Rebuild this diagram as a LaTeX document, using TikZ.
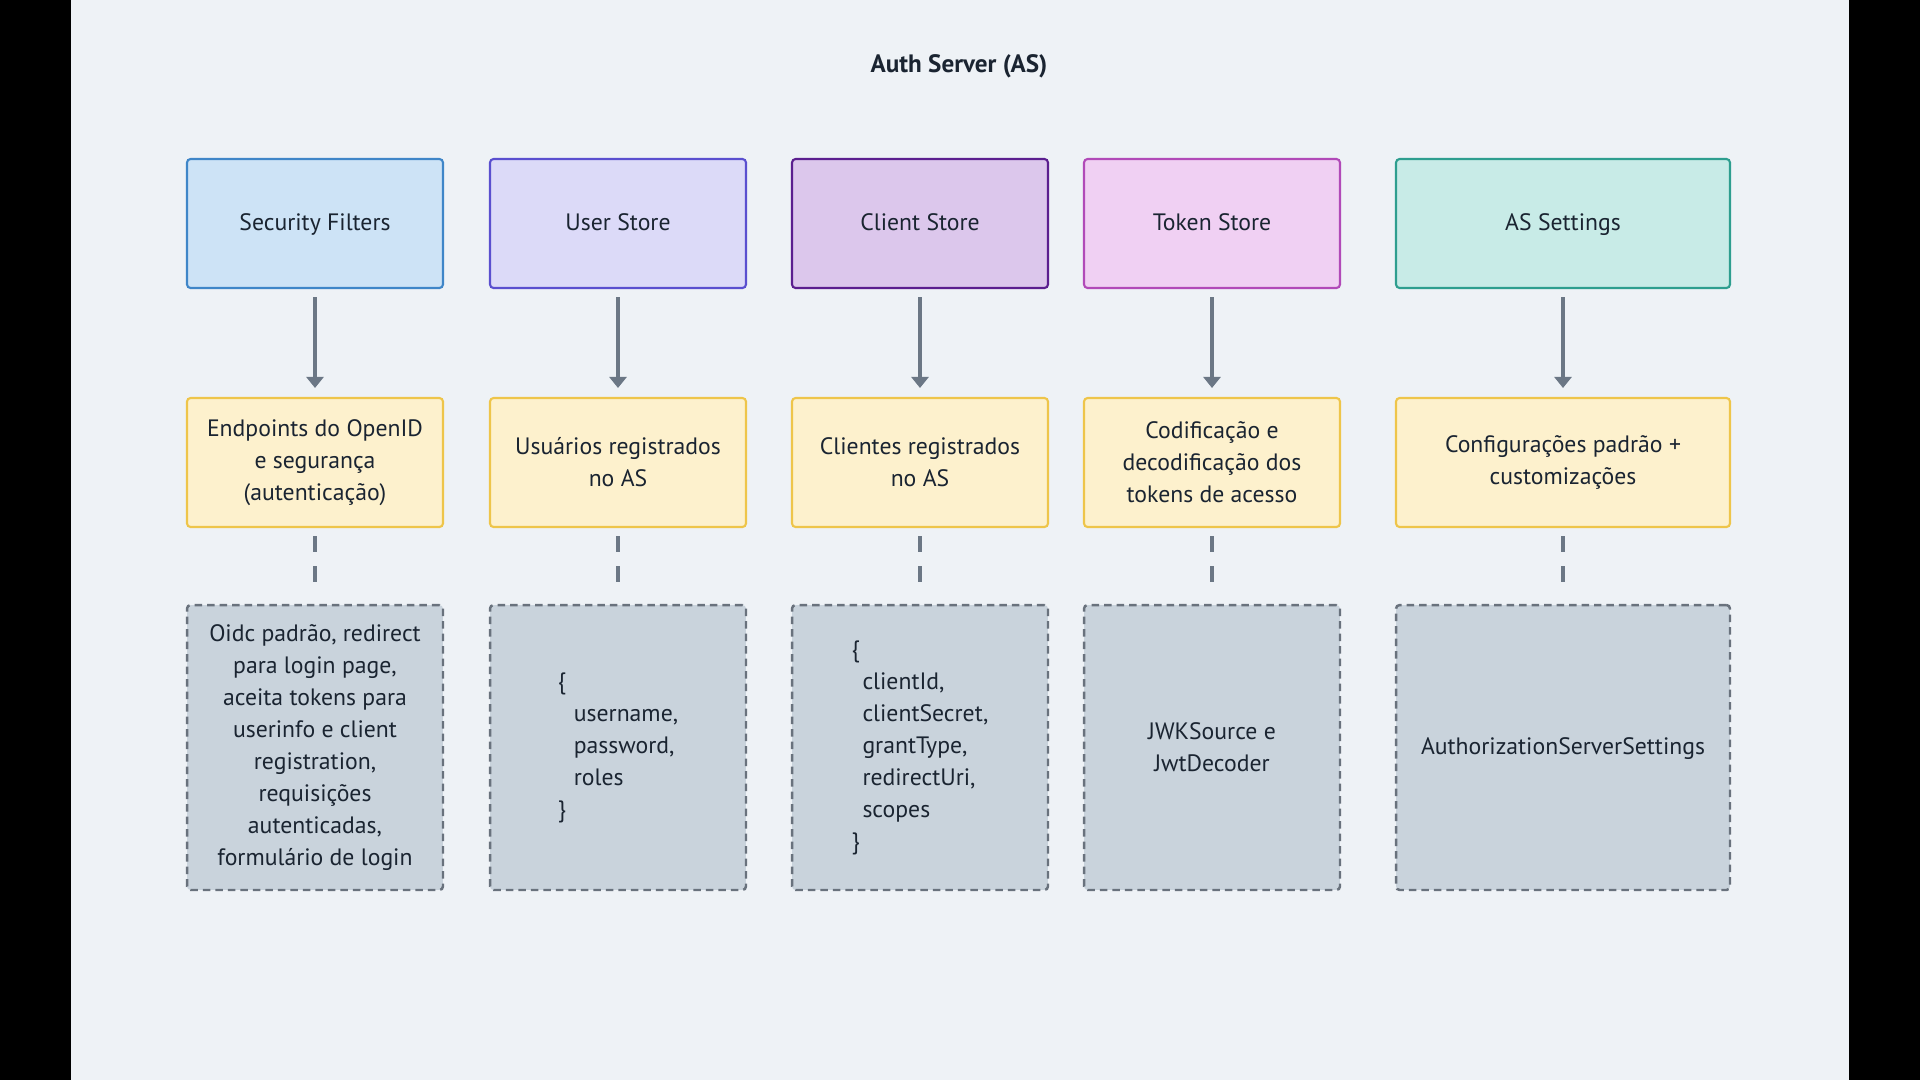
\documentclass[tikz,border=0pt]{standalone}
\usepackage{fontspec}
\setmainfont{PT Sans}
\usepackage{tikz}
\usetikzlibrary{arrows.meta,positioning}

\definecolor{panel}{HTML}{EEF2F6}
\definecolor{ink}{HTML}{1A2431}
\definecolor{slate}{HTML}{6B7785}
\definecolor{secfill}{HTML}{CDE3F6}
\definecolor{secline}{HTML}{3F86C8}
\definecolor{userfill}{HTML}{DCDAF8}
\definecolor{userline}{HTML}{5A4FCF}
\definecolor{clientfill}{HTML}{DCC7EC}
\definecolor{clientline}{HTML}{5B1F8F}
\definecolor{tokenfill}{HTML}{F0D0F3}
\definecolor{tokenline}{HTML}{B14AB8}
\definecolor{setfill}{HTML}{C8EBE7}
\definecolor{setline}{HTML}{2E9E8F}
\definecolor{yelfill}{HTML}{FDF1CD}
\definecolor{yelline}{HTML}{EEC54A}
\definecolor{notefill}{HTML}{C9D3DC}
\definecolor{noteline}{HTML}{69727D}

\begin{document}
\begin{tikzpicture}[x=0.02cm,y=-0.02cm,
    txt/.style={font=\fontsize{13.5}{18.2}\selectfont, text=ink, align=center, inner sep=0pt},
    oneline/.style={text height=1.55ex, text depth=0pt},
    box/.style={txt, draw, line width=1.2pt, rounded corners=2pt,
        minimum width=5.12cm, minimum height=2.58cm},
    wide/.style={minimum width=6.68cm},
    yel/.style={box, fill=yelfill, draw=yelline},
    note/.style={txt, draw=noteline, fill=notefill, line width=1.4pt,
        dash pattern=on 0.15cm off 0.1cm, rounded corners=2pt,
        minimum width=5.12cm, minimum height=5.7cm},
    flow/.style={draw=slate, line width=2.3pt,
        -{Triangle[width=0.34cm,length=0.22cm]}, shorten <=0.16cm, shorten >=0.18cm},
    link/.style={draw=slate, line width=2.3pt, dash pattern=on 0.32cm off 0.28cm,
        shorten <=0.16cm, shorten >=0.44cm}]

    % Screen and panel
    \fill[black] (0,0) rectangle (1920,1080);
    \fill[panel] (71,0) rectangle (1849,1080);
    \useasboundingbox (0,0) rectangle (1920,1080);

    % Title
    \node[txt, font=\bfseries\fontsize{14.3}{17}\selectfont] (title) at (959,66) {Auth Server (AS)};

    % Components
    \node[box, oneline, fill=secfill, draw=secline] (sec) at (315,223.5) {Security Filters};
    \node[box, oneline, fill=userfill, draw=userline] (user) at (618,223.5) {User Store};
    \node[box, oneline, fill=clientfill, draw=clientline] (client) at (920,223.5) {Client Store};
    \node[box, oneline, fill=tokenfill, draw=tokenline] (token) at (1212,223.5) {Token Store};
    \node[box, oneline, wide, fill=setfill, draw=setline] (set) at (1563,223.5) {AS Settings};

    % Roles
    \node[yel] (secRole) at (315,462.5) {Endpoints do OpenID\\e segurança\\(autenticação)};
    \node[yel] (userRole) at (618,462.5) {Usuários registrados\\no AS};
    \node[yel] (clientRole) at (920,462.5) {Clientes registrados\\no AS};
    \node[yel] (tokenRole) at (1212,462.5) {Codificação e\\decodificação dos\\tokens de acesso};
    \node[yel, wide] (setRole) at (1563,462.5) {Configurações padrão +\\customizações};

    % Details
    \node[note] (secNote) at (315,747.5) {Oidc padrão, redirect\\para login page,\\aceita tokens para\\userinfo e client\\registration,\\requisições\\autenticadas,\\formulário de login};
    \node[note] (userNote) at (618,747.5) {};
    \node[txt, align=left] (userJson) at (userNote) {\{\\\hspace*{0.32cm}username,\\\hspace*{0.32cm}password,\\\hspace*{0.32cm}roles\\\}};
    \node[note] (clientNote) at (920,747.5) {};
    \node[txt, align=left] (clientJson) at (clientNote) {\{\\\hspace*{0.22cm}clientId,\\\hspace*{0.22cm}clientSecret,\\\hspace*{0.22cm}grantType,\\\hspace*{0.22cm}redirectUri,\\\hspace*{0.22cm}scopes\\\}};
    \node[note] (tokenNote) at (1212,747.5) {JWKSource e\\JwtDecoder};
    \node[note, wide, oneline] (setNote) at (1563,747.5) {AuthorizationServerSettings};

    % Arrows
    \draw[flow] (sec) -- (secRole);
    \draw[flow] (user) -- (userRole);
    \draw[flow] (client) -- (clientRole);
    \draw[flow] (token) -- (tokenRole);
    \draw[flow] (set) -- (setRole);

    % Dashed links
    \draw[link] (secRole) -- (secNote);
    \draw[link] (userRole) -- (userNote);
    \draw[link] (clientRole) -- (clientNote);
    \draw[link] (tokenRole) -- (tokenNote);
    \draw[link] (setRole) -- (setNote);
\end{tikzpicture}
\end{document}
